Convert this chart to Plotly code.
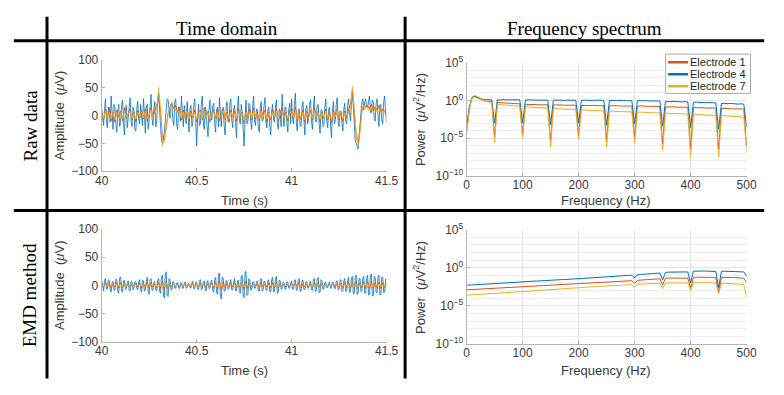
import numpy as np
import plotly.graph_objects as go

# ---------------- data ----------------
time_fine = np.round(np.linspace(40.0, 41.5, 301), 4)
time_s = np.round(np.linspace(40.0, 41.5, 151), 3)

raw_e4 = [12, -5, -18, 10, 30, -8, -22, 15, 8, -12, 35, 5, -25, 20, 15, -15, -30, 8, 20, -20,
          -10, 18, 28, -12, -35, 10, 18, -22, -5, 25, 32, -10, -20, 15, 10, -25, -28, 12, 25, -8,
          -15, 20, 5, -18, 30, 8, -32, 15, 20, -25, -8, 22, 38, -5, -18, 12, 25, -20, -10, 28,
          40, 10, -20, -45, -50, -40, -30, -10, 15, 30, 28, 10, -5, 20, 22, -10, -18, 25, 30, -15,
          -25, 15, 12, -10, 35, 5, -20, 18, 5, -15, 25, -8, -30, 12, 18, -20, -12, 20, 30, -5,
          -55, -10, 20, -18, -15, 22, 35, -12, -25, 15, 10, -20, -38, 10, 28, -5, -8, 18, 22, -15,
          -30, 10, 15, -20, 32, 5, -20, 12, 8, -18, -35, 15, 25, -10, -12, 22, 30, -8, -22, 12,
          18, -12, -40, 15, 35, -8, -15, 20, 5, -25, -55, -5, 28, -15, -10, 22, 20, -12, -25, 15,
          35, -10, -18, 12, 10, -22, -30, 15, 25, -10, -8, 18, 32, -12, -22, 10, 15, -18, -35, 8,
          20, -8, -12, 15, 28, -15, -25, 12, 8, -20, 38, 5, -20, 15, 15, -12, -30, 10, 22, -15,
          30, -5, -15, 20, 40, -12, -28, 10, 12, -18, -20, 15, 25, -10, -35, 12, 18, -15, -5, 20,
          28, -12, -25, 15, 35, -8, -12, 18, 20, -15, -32, 10, 10, -20, -18, 15, 30, -10, -22, 12,
          15, -18, -40, 10, 25, -15, -10, 20, 32, -12, -20, 8, 8, -15, -28, 12, 22, -10, -15, 18,
          30, 5, -10, 20, 45, 15, -30, -45, -50, -55, -60, -40, -20, 10, 25, 30, 10, 25, 30, 15,
          15, 25, 35, 5, 5, 28, 25, -5, -10, 22, 30, 0, -20, 18, 20, -8, -15, 25, 35, 5,
          -10]

raw_e1 = [5, -8, 12, -3, 15, -10, 6, -12, 10, -2,
          8, -10, 14, -5, 3, 12, -8, 6, -12, 9,
          -4, 10, -6, 12, -10, 5, 15, -3, 8, 18,
          30, 10, -40, -45, -20, 5, 15, 22, 12, 18,
          5, 15, -8, 10, -5, 12, -10, 8, -4, 10,
          -12, 6, 10, -8, 14, -5, 8, -12, 5, 10,
          -6, 12, -10, 4, 15, -8, 6, -12, 10, -3,
          8, -10, 12, -5, 6, -15, 10, -4, 12, -8,
          14, -6, 5, -10, 12, -3, 10, -12, 6, -8,
          10, -4, 12, -10, 5, 15, -8, 6, -10, 8,
          12, -5, 15, -10, 6, -8, 10, -12, 8, -2,
          10, -8, 14, -5, 8, -12, 6, -6, 12, -8,
          5, -14, 10, -4, 12, -8, 4, -10, 8, -5,
          10, 20, 45, 10, -35, -50, -25, 10, 20, 15,
          18, 12, 20, 8, 15, 10, 18, 5, 12, 8,
          2]

raw_e7 = [3, -5, 8, -2, 6, -6, 4, -8, 6, 0,
          5, -6, 8, -3, 2, 7, -5, 4, -7, 6,
          -2, 6, -4, 8, -6, 3, 10, -2, 5, 12,
          50, 15, -55, -45, -22, 2, 12, 25, 15, 10,
          4, 10, -5, 6, -3, 8, -6, 5, -2, 6,
          -7, 4, 6, -5, 9, -3, 5, -7, 3, 6,
          -4, 7, -6, 2, 9, -5, 4, -7, 6, -2,
          5, -6, 8, -3, 4, -9, 6, -2, 7, -5,
          9, -4, 3, -6, 8, -2, 6, -7, 4, -5,
          6, -2, 8, -6, 3, 9, -5, 4, -6, 5,
          8, -3, 9, -6, 4, -5, 6, -8, 5, -1,
          6, -5, 9, -3, 5, -7, 4, -4, 8, -5,
          3, -8, 6, -2, 8, -5, 2, -6, 5, -3,
          6, 15, 52, 8, -30, -55, -30, 5, 18, 12,
          14, 8, 16, 6, 12, 8, 14, 3, 9, 5,
          0]

emd_e4 = [8, -6, -10, 9, 12, -7, -6, 10, 9, -8, -12, 6, 7, -9, -8, 11, 10, -12, -14, 13,
          15, -10, -12, 8, 9, -7, -6, 5, 8, -9, -10, 7, 6, -8, -5, 6, 7, -5, -8, 6,
          10, -8, -12, 9, 8, -10, -9, 7, 14, -12, -16, 10, 12, -9, -8, 6, 6, -8, -10, 9,
          12, -10, -14, 16, 18, -15, -22, 20, 24, -18, -20, 12, 10, -8, -8, 6, 6, -5, -5, 4,
          5, -4, -6, 5, 4, -5, -5, 4, 6, -5, -4, 3, 3, -4, -5, 4, 7, -6, -6, 5,
          5, -6, -8, 7, 10, -8, -6, 5, 8, -7, -10, 8, 7, -6, -5, 6, 9, -10, -12, 10,
          14, -12, -16, 18, 22, -20, -24, 15, 12, -10, -10, 8, 8, -7, -6, 5, 10, -8, -8, 7,
          12, -9, -10, 8, 9, -11, -14, 16, 18, -20, -22, 24, 24, -18, -16, 12, 10, -9, -8, 6,
          6, -5, -5, 6, 8, -9, -10, 9, 12, -10, -8, 7, 6, -8, -9, 8, 10, -11, -12, 10,
          14, -12, -10, 12, 16, -14, -12, 9, 8, -7, -6, 5, 5, -6, -7, 6, 6, -5, -5, 4,
          8, -7, -6, 8, 10, -9, -8, 10, 12, -11, -10, 8, 9, -8, -7, 6, 6, -5, -5, 4,
          7, -8, -9, 10, 12, -11, -10, 12, 14, -13, -12, 10, 8, -7, -6, 5, 5, -4, -4, 3,
          6, -5, -5, 6, 4, -5, -6, 7, 8, -8, -7, 9, 10, -11, -9, 8, 12, -11, -10, 9,
          14, -13, -12, 14, 16, -15, -14, 16, 18, -16, -15, 12, 12, -11, -10, 13, 16, -14, -14, 12,
          18, -17, -16, 18, 20, -19, -18, 16, 14, -13, -12, 15, 18, -17, -16, 15, 14, -13, -12, 11,
          10]

emd_e1 = [3, -4, 5, -3, 4, -5, 3, -3, 4, -5,
          5, -4, 3, -2, 3, -4, 2, -2, 3, -3,
          4, -5, 3, -4, 6, -6, 5, -3, 2, -4,
          5, -6, 7, -8, 8, -7, 4, -3, 2, -2,
          2, -3, 2, -2, 3, -2, 1, -2, 3, -2,
          2, -3, 4, -2, 3, -4, 3, -2, 4, -5,
          5, -6, 8, -8, 5, -4, 3, -2, 4, -3,
          5, -4, 3, -5, 6, -8, 8, -6, 4, -3,
          2, -2, 3, -4, 5, -3, 2, -3, 4, -5,
          5, -4, 6, -5, 3, -2, 2, -3, 2, -2,
          3, -2, 4, -3, 5, -4, 3, -3, 2, -2,
          3, -4, 5, -4, 5, -5, 3, -2, 2, -2,
          2, -2, 2, -3, 3, -3, 4, -4, 5, -4,
          5, -5, 6, -5, 7, -6, 5, -4, 6, -5,
          6, -6, 7, -6, 5, -5, 6, -6, 5, -4,
          4]

emd_e7 = [1, -2, 2, -1, 2, -2, 1, -1, 2, -2,
          2, -1, 1, -1, 1, -2, 1, -1, 1, -1,
          2, -2, 1, -2, 2, -3, 2, -1, 1, -2,
          2, -3, 3, -3, 4, -3, 2, -1, 1, -1,
          1, -1, 1, -1, 1, -1, 1, -1, 1, -1,
          1, -1, 2, -1, 1, -2, 1, -1, 2, -2,
          2, -3, 3, -3, 2, -2, 1, -1, 2, -1,
          2, -2, 1, -2, 3, -3, 3, -2, 2, -1,
          1, -1, 1, -2, 2, -1, 1, -1, 2, -2,
          2, -2, 3, -2, 1, -1, 1, -1, 1, -1,
          1, -1, 2, -1, 2, -2, 1, -1, 1, -1,
          1, -2, 2, -2, 2, -2, 1, -1, 1, -1,
          1, -1, 1, -1, 1, -1, 2, -2, 2, -2,
          2, -2, 3, -2, 3, -3, 2, -2, 3, -2,
          3, -3, 3, -3, 2, -2, 3, -3, 2, -2,
          2]

freq_hz = np.arange(0, 501, 5)

# power spectra, stored as log10(uV^2/Hz)
raw_psd_e4_log = [-3.5, -0.8, 0.45, 0.55, 0.4, 0.25, 0.15, 0.1, 0.12, 0.08,
                  -3.0, 0.1, 0.05, 0.12, 0.08, 0.1, 0.06, 0.11, 0.07, 0.09,
                  -3.0, 0.05, 0.08, 0.03, 0.07, 0.04, 0.06, 0.02, 0.07, 0.04,
                  -3.2, 0.03, 0.06, 0.02, 0.05, 0.01, 0.05, 0.03, 0.06, 0.02,
                  -3.0, 0.02, 0.04, 0.0, 0.03, 0.01, 0.04, -0.01, 0.03, 0.0,
                  -3.3, 0.0, 0.02, -0.03, 0.01, -0.02, 0.02, -0.04, 0.0, -0.02,
                  -3.1, -0.05, -0.02, -0.07, -0.03, -0.06, -0.04, -0.08, -0.05, -0.07,
                  -3.4, -0.15, -0.12, -0.18, -0.13, -0.17, -0.14, -0.19, -0.15, -0.2,
                  -3.6, -0.25, -0.22, -0.28, -0.24, -0.3, -0.26, -0.31, -0.27, -0.32,
                  -3.8, -0.4, -0.37, -0.43, -0.39, -0.45, -0.42, -0.48, -0.44, -0.5,
                  -3.5]

raw_psd_e1_log = [-4.0, -1.0, 0.4, 0.5, 0.35, 0.15, 0.0, -0.1, -0.15, -0.2,
                  -4.8, -0.25, -0.29, -0.3, -0.34, -0.35, -0.39, -0.4, -0.43, -0.45,
                  -4.6, -0.5, -0.53, -0.5, -0.55, -0.53, -0.57, -0.55, -0.58, -0.57,
                  -5.4, -0.6, -0.58, -0.63, -0.6, -0.63, -0.61, -0.65, -0.62, -0.65,
                  -4.7, -0.65, -0.68, -0.64, -0.68, -0.66, -0.7, -0.67, -0.7, -0.68,
                  -5.4, -0.7, -0.68, -0.73, -0.7, -0.73, -0.71, -0.75, -0.72, -0.75,
                  -4.9, -0.75, -0.73, -0.78, -0.75, -0.78, -0.76, -0.81, -0.78, -0.81,
                  -5.8, -0.85, -0.83, -0.88, -0.85, -0.88, -0.86, -0.91, -0.88, -0.91,
                  -6.4, -0.95, -0.93, -0.98, -0.95, -0.99, -0.97, -1.02, -0.99, -1.03,
                  -6.5, -1.08, -1.06, -1.11, -1.08, -1.12, -1.1, -1.15, -1.12, -1.16,
                  -6.0]

raw_psd_e7_log = [-4.5, -1.2, 0.5, 0.65, 0.5, 0.25, 0.05, -0.1, -0.2, -0.3,
                  -5.6, -0.5, -0.56, -0.58, -0.63, -0.65, -0.69, -0.7, -0.74, -0.76,
                  -5.0, -0.82, -0.86, -0.88, -0.91, -0.92, -0.96, -0.97, -1.01, -1.02,
                  -6.2, -1.05, -1.09, -1.1, -1.13, -1.14, -1.17, -1.18, -1.21, -1.22,
                  -5.2, -1.25, -1.28, -1.29, -1.31, -1.32, -1.34, -1.35, -1.38, -1.38,
                  -6.2, -1.4, -1.43, -1.43, -1.46, -1.46, -1.49, -1.49, -1.51, -1.52,
                  -5.6, -1.54, -1.56, -1.57, -1.59, -1.6, -1.62, -1.63, -1.65, -1.66,
                  -6.7, -1.68, -1.7, -1.71, -1.73, -1.74, -1.76, -1.77, -1.79, -1.8,
                  -7.5, -1.82, -1.85, -1.86, -1.89, -1.9, -1.93, -1.94, -1.97, -1.98,
                  -7.5, -2.0, -2.04, -2.05, -2.09, -2.1, -2.13, -2.15, -2.18, -2.2,
                  -6.9]

emd_psd_e4_log = [-2.30, -2.27, -2.25, -2.24, -2.20, -2.19, -2.16, -2.15, -2.12, -2.10,
                  -2.08, -2.06, -2.04, -2.01, -2.00, -1.97, -1.95, -1.92, -1.91, -1.88,
                  -1.85, -1.84, -1.80, -1.79, -1.76, -1.75, -1.72, -1.70, -1.68, -1.66,
                  -1.64, -1.62, -1.60, -1.58, -1.56, -1.55, -1.52, -1.50, -1.48, -1.47,
                  -1.45, -1.42, -1.40, -1.37, -1.35, -1.32, -1.30, -1.27, -1.25, -1.22,
                  -1.20, -1.18, -1.15, -1.12, -1.10, -1.08, -1.05, -1.02, -1.00, -0.97,
                  -1.35, -0.92, -0.88, -0.86, -0.83, -0.80, -0.77, -0.74, -0.72, -0.70,
                  -1.6, -0.62, -0.58, -0.56, -0.55, -0.53, -0.52, -0.53, -0.55, -0.56,
                  -2.0, -0.45, -0.42, -0.43, -0.44, -0.43, -0.45, -0.46, -0.47, -0.5,
                  -2.6, -0.48, -0.45, -0.46, -0.47, -0.48, -0.5, -0.52, -0.53, -0.55,
                  -1.1]

emd_psd_e1_log = [-2.90, -2.88, -2.86, -2.85, -2.82, -2.80, -2.78, -2.76, -2.74, -2.72,
                  -2.70, -2.68, -2.66, -2.65, -2.62, -2.60, -2.58, -2.56, -2.54, -2.52,
                  -2.50, -2.48, -2.46, -2.44, -2.42, -2.40, -2.38, -2.36, -2.34, -2.32,
                  -2.30, -2.28, -2.26, -2.24, -2.22, -2.20, -2.18, -2.16, -2.14, -2.12,
                  -2.10, -2.08, -2.06, -2.04, -2.02, -2.00, -1.97, -1.95, -1.93, -1.90,
                  -1.88, -1.86, -1.84, -1.82, -1.80, -1.78, -1.76, -1.74, -1.72, -1.70,
                  -2.05, -1.66, -1.62, -1.60, -1.57, -1.55, -1.52, -1.50, -1.48, -1.46,
                  -2.25, -1.38, -1.35, -1.34, -1.33, -1.32, -1.32, -1.33, -1.35, -1.37,
                  -2.7, -1.28, -1.25, -1.24, -1.24, -1.23, -1.24, -1.25, -1.27, -1.3,
                  -3.2, -1.28, -1.26, -1.26, -1.27, -1.28, -1.3, -1.32, -1.35, -1.38,
                  -1.9]

emd_psd_e7_log = [-3.60, -3.58, -3.57, -3.55, -3.52, -3.50, -3.48, -3.46, -3.44, -3.42,
                  -3.40, -3.38, -3.36, -3.34, -3.32, -3.30, -3.27, -3.24, -3.21, -3.18,
                  -3.15, -3.12, -3.09, -3.06, -3.03, -3.00, -2.97, -2.94, -2.91, -2.88,
                  -2.86, -2.83, -2.80, -2.78, -2.75, -2.72, -2.70, -2.67, -2.65, -2.62,
                  -2.60, -2.58, -2.56, -2.54, -2.52, -2.50, -2.48, -2.46, -2.44, -2.42,
                  -2.40, -2.38, -2.36, -2.34, -2.32, -2.30, -2.28, -2.26, -2.24, -2.22,
                  -2.55, -2.18, -2.15, -2.13, -2.11, -2.10, -2.08, -2.07, -2.06, -2.05,
                  -2.75, -2.02, -2.0, -1.98, -1.97, -1.97, -1.98, -1.99, -2.0, -2.02,
                  -3.0, -1.98, -1.96, -1.95, -1.95, -1.96, -1.97, -1.98, -2.0, -2.02,
                  -3.4, -2.05, -2.04, -2.05, -2.07, -2.09, -2.12, -2.15, -2.18, -2.22,
                  -3.9]

electrode_names = ["Electrode 1", "Electrode 4", "Electrode 7"]
time_ticks = [40, 40.5, 41, 41.5]
amp_ticks = [-100, -50, 0, 50, 100]
freq_ticks = [0, 100, 200, 300, 400, 500]
psd_tick_exp = [-10, -5, 0, 5]

# ---------------- style ----------------
C1, C4, C7 = "#D95319", "#0072BD", "#EDB120"
SANS = "Liberation Sans, Arial, sans-serif"
SERIF = "Liberation Serif, Times New Roman, serif"
AX = "#b4b4b4"
TXT = "#3a3a3a"
W, H = 784, 395


def px(x):
    return x / W


def py(y):
    return 1 - y / H


fig = go.Figure()


def add_line(x, y, color, xa, ya, width=1.0):
    fig.add_trace(go.Scatter(x=x, y=y, mode="lines", line=dict(color=color, width=width),
                             xaxis=xa, yaxis=ya, showlegend=False, hoverinfo="skip"))


def pw(lst):
    return [10 ** v for v in lst]


# time domain (raw, top-left)
add_line(time_fine, raw_e4, C4, "x", "y", 0.8)
add_line(time_s, raw_e1, C1, "x", "y", 0.9)
add_line(time_s, raw_e7, C7, "x", "y", 0.9)
# spectrum (raw, top-right)
add_line(freq_hz, pw(raw_psd_e1_log), C1, "x2", "y2")
add_line(freq_hz, pw(raw_psd_e4_log), C4, "x2", "y2")
add_line(freq_hz, pw(raw_psd_e7_log), C7, "x2", "y2")
# time domain (EMD, bottom-left)
add_line(time_fine, emd_e4, C4, "x3", "y3", 0.8)
add_line(time_s, emd_e1, C1, "x3", "y3", 0.9)
add_line(time_s, emd_e7, C7, "x3", "y3", 0.9)
# spectrum (EMD, bottom-right)
add_line(freq_hz, pw(emd_psd_e1_log), C1, "x4", "y4")
add_line(freq_hz, pw(emd_psd_e4_log), C4, "x4", "y4")
add_line(freq_hz, pw(emd_psd_e7_log), C7, "x4", "y4")

tickfont = dict(family=SANS, size=12, color=TXT)
common = dict(ticks="inside", ticklen=3, tickcolor=AX, showline=True, linecolor=AX,
              linewidth=1, zeroline=False, tickfont=tickfont, fixedrange=True)

xl = [px(97), px(389)]
xr = [px(471), px(758)]
y_top_l = [py(169), py(53)]
y_bot_l = [py(347), py(229)]
y_top_r = [py(174), py(56)]
y_bot_r = [py(349), py(230)]

time_x = dict(range=[40, 41.5], tickvals=time_ticks, showgrid=False,
              ticklabelstandoff=-2, **common)
amp_y = dict(range=[-100, 100], tickvals=amp_ticks, showgrid=False, **common)
freq_x = dict(range=[0, 500], tickvals=freq_ticks, showgrid=True, gridcolor="#e4e4e4",
              gridwidth=1, ticklabelstandoff=-2, **common)
minor_vals = [10.0 ** k for k in range(-10, 6) if k % 5 != 0]
psd_y = dict(type="log", range=[-10, 5], tickvals=[10.0 ** e for e in psd_tick_exp],
             ticktext=["10<sup>\u2212%d</sup>" % -e if e < 0 else "10<sup>%d</sup>" % e
                       for e in psd_tick_exp],
             showgrid=True, gridcolor="#e4e4e4", gridwidth=1,
             minor=dict(tickvals=minor_vals, showgrid=True, gridcolor="#efefef",
                        ticks=""),
             **common)

fig.update_layout(
    width=W, height=H, autosize=False,
    margin=dict(l=0, r=0, t=0, b=0),
    paper_bgcolor="white", plot_bgcolor="white",
    xaxis=dict(domain=xl, anchor="y", **time_x),
    yaxis=dict(domain=y_top_l, anchor="x", **amp_y),
    xaxis2=dict(domain=xr, anchor="y2", **freq_x),
    yaxis2=dict(domain=y_top_r, anchor="x2", **psd_y),
    xaxis3=dict(domain=xl, anchor="y3", **time_x),
    yaxis3=dict(domain=y_bot_l, anchor="x3", **amp_y),
    xaxis4=dict(domain=xr, anchor="y4", **freq_x),
    yaxis4=dict(domain=y_bot_r, anchor="x4", **psd_y),
    showlegend=False,
)

# divider lines
line_style = dict(color="black", width=3)
shapes = [
    dict(type="line", xref="paper", yref="paper", x0=px(7), x1=px(776), y0=py(33), y1=py(33), line=line_style),
    dict(type="line", xref="paper", yref="paper", x0=px(7), x1=px(776), y0=py(210), y1=py(210), line=line_style),
    dict(type="line", xref="paper", yref="paper", x0=px(41), x1=px(41), y0=py(8), y1=py(385), line=line_style),
    dict(type="line", xref="paper", yref="paper", x0=px(408), x1=px(408), y0=py(8), y1=py(385), line=line_style),
]

ann = []


def add_text(text, x, y, size, family, angle=0, color="black", xanchor="center"):
    ann.append(dict(text=text, x=px(x), y=py(y), xref="paper", yref="paper",
                    showarrow=False, textangle=angle, xanchor=xanchor, yanchor="middle",
                    borderpad=0, font=dict(family=family, size=size, color=color)))


# compact legend box (top-right spectrum panel)
LG_L, LG_R, LG_T, LG_B = 675, 762, 47, 88
shapes.append(dict(type="rect", xref="paper", yref="paper", x0=px(LG_L), x1=px(LG_R),
                   y0=py(LG_B), y1=py(LG_T), fillcolor="white",
                   line=dict(color="#a8a8a8", width=1), layer="above"))
for i, (name, col) in enumerate(zip(electrode_names, [C1, C4, C7])):
    yy = 55.5 + 12.5 * i
    shapes.append(dict(type="line", xref="paper", yref="paper", x0=px(677.5), x1=px(698),
                       y0=py(yy), y1=py(yy), line=dict(color=col, width=2.5), layer="above"))
    add_text(name, 699, yy, 11, SANS, 0, "#262626", xanchor="left")

fig.update_layout(shapes=shapes)

add_text("Time domain", 225, 20, 19, SERIF)
add_text("Frequency spectrum", 592, 20, 19, SERIF)
add_text("Raw data", 24, 121, 19, SERIF, -90)
add_text("EMD method", 24, 298, 19, SERIF, -90)
for yc in (111, 288):
    add_text("Amplitude  (<i>\u03bc</i>V)", 54, yc, 13, SANS, -90, TXT)
for yc in (115, 290):
    add_text("Power  (<i>\u03bc</i>V<sup>2</sup>/Hz)", 423, yc, 13, SANS, -90, TXT)
for yc in (200, 377):
    add_text("Time (s)", 243, yc, 13, SANS, 0, TXT)
    add_text("Frequency (Hz)", 614, yc, 13, SANS, 0, TXT)
fig.update_layout(annotations=ann)

fig.write_html("out.html")
